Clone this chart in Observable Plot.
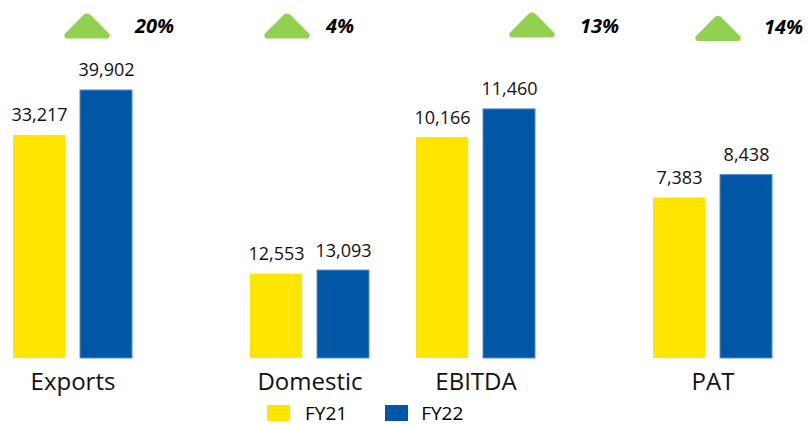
<!DOCTYPE html>
<html>
<head>
<meta charset="utf-8">
<script src="https://cdn.jsdelivr.net/npm/d3@7"></script>
<script src="https://cdn.jsdelivr.net/npm/@observablehq/plot@0.6"></script>
<style>
  html, body { margin: 0; padding: 0; background: #fff; }
  #wrap { position: relative; width: 809px; height: 425px; overflow: hidden; font-family: 'Open Sans', sans-serif; }
  #charts { position: absolute; left: 0; top: 0; display: flex; }
  #legend { position: absolute; left: 267px; top: 404px; height: 18px; display: flex; align-items: center; font-size: 19px; color: #000; line-height: 18px; }
  .sw { width: 23px; height: 16px; display: inline-block; }
  .lab { margin-left: 15px; margin-right: 38px; }
  .lab:last-child { margin-right: 0; margin-left: 13px; }
</style>
</head>
<body>
<div id="wrap">
  <div id="charts"></div>
  <div id="legend"></div>
</div>
<script>
// ---- data ----
const groups = ["Exports", "Domestic", "EBITDA", "PAT"];
const years = ["FY21", "FY22"];
const fy21 = [33217, 12553, 10166, 7383];
const fy22 = [39902, 13093, 11460, 8438];
const colors = ["#FFE500", "#0057A5"];
const arrowColor = "#92D050";

// ---- layout (per-group annotation offsets relative to the group's centre) ----
const triDx = [14, -23, 56, 5];
const triDy = [24.5, 24.5, 23.5, 27];
const pctDx = [62, 16, 104, 51];
const pctDy = [32, 32, 32, 33];

const fmt = d3.format(",");
const fmtPct = d3.format(".0%");
const series = [fy21, fy22];

// wide up-pointing triangle with rounded corners
const upTriangle = {
  draw(ctx) {
    const w = 27, h = 13.5;
    ctx.moveTo(0, h);
    ctx.arcTo(-w, h, 0, -h, 3);
    ctx.arcTo(0, -h, w, h, 5);
    ctx.arcTo(w, h, -w, h, 3);
    ctx.closePath();
  }
};

function panel(idxs, ymax, width, marginLeft, marginRight) {
  const rows = idxs.flatMap(i => years.map((yr, j) => ({group: groups[i], year: yr, value: series[j][i]})));
  const growth = idxs.map(i => ({group: groups[i], pct: fy22[i] / fy21[i] - 1, i}));
  return Plot.plot({
    width, height: 400,
    marginTop: 0, marginBottom: 42, marginLeft, marginRight,
    fx: {domain: idxs.map(i => groups[i]), paddingInner: 0.49, paddingOuter: 0, axis: null},
    x: {domain: years, paddingInner: 0.22, paddingOuter: 0, axis: null},
    y: {domain: [0, ymax], axis: null},
    color: {domain: years, range: colors},
    style: {fontFamily: "'Open Sans', sans-serif", background: "transparent", overflow: "visible"},
    marks: [
      Plot.barY(rows, {fx: "group", x: "year", y: "value", fill: "year",
        stroke: d => d.year === "FY22" ? "#5A8FCC" : "none", strokeWidth: 1}),
      Plot.text(rows, {fx: "group", x: "year", y: "value", text: d => fmt(d.value),
        lineAnchor: "bottom", dy: -14, fontSize: 18, fill: "#111"}),
      Plot.text(idxs.map(i => groups[i]), {fx: d => d, text: d => d, frameAnchor: "bottom",
        lineAnchor: "bottom", dy: 31, fontSize: 24, fill: "#111"}),
      ...growth.flatMap(g => [
        Plot.dot([g], {fx: "group", frameAnchor: "top", dx: triDx[g.i], dy: triDy[g.i],
          symbol: upTriangle, fill: arrowColor, stroke: "none", r: 10}),
        Plot.text([g], {fx: "group", frameAnchor: "top", dx: pctDx[g.i], dy: pctDy[g.i],
          textAnchor: "start", lineAnchor: "bottom", text: d => fmtPct(d.pct),
          fontSize: 20, fontWeight: "bold", fontStyle: "italic", fill: "#000"})
      ])
    ]
  });
}

const charts = document.getElementById("charts");
charts.append(panel([0, 1], 53300, 390, 12, 20));
charts.append(panel([2, 3], 16470, 419, 25, 36));

const legend = document.getElementById("legend");
years.forEach((yr, j) => {
  const sw = document.createElement("span");
  sw.className = "sw";
  sw.style.background = colors[j];
  const lab = document.createElement("span");
  lab.className = "lab";
  lab.textContent = yr;
  legend.append(sw, lab);
});
</script>
</body>
</html>
